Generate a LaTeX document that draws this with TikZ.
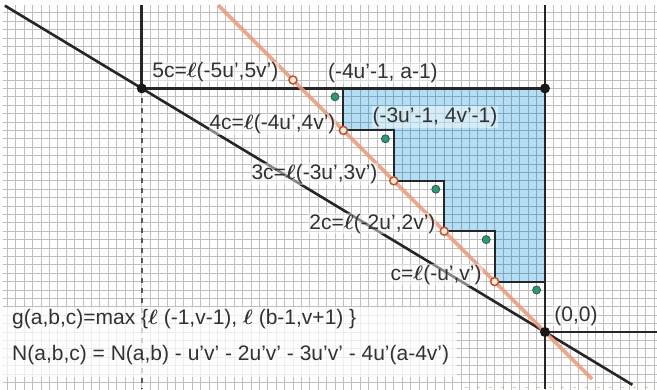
\documentclass[tikz,border=0pt]{standalone}
\usepackage{amsmath}
\usepackage{fontspec}
\setmainfont{Liberation Sans}
\newcommand{\ellb}{\ensuremath{\boldsymbol{\ell}}}
\definecolor{regionblue}{RGB}{178,223,245}
\definecolor{orangeln}{RGB}{240,150,118}
\definecolor{dotred}{RGB}{200,80,45}
\definecolor{dotgreen}{RGB}{30,160,120}
\definecolor{txtgray}{RGB}{50,50,50}
\begin{document}
\begin{tikzpicture}[x=8.4pt,y=8.4pt,
  gridline/.style={draw=black, opacity=0.25, line width=0.75pt},
  mainline/.style={draw=black!85, line width=2.6pt},
  stair/.style={draw=black!85, line width=1.9pt},
  odot/.style={circle, draw=dotred, fill=white!85!orange, line width=1.5pt, inner sep=0pt, minimum size=8pt},
  gdot/.style={circle, draw=black!70, fill=dotgreen, line width=0.8pt, inner sep=0pt, minimum size=8pt},
  bdot/.style={circle, fill=black!90, inner sep=0pt, minimum size=10pt},
  lbl/.style={font=\fontsize{21}{24}\selectfont, text=txtgray, inner sep=1pt, fill=white, fill opacity=0.45, text opacity=1},
  formula/.style={font=\fontsize{21}{24}\selectfont, text=txtgray, inner sep=0pt, anchor=west},
]
\useasboundingbox (-545pt,-57pt) rectangle (112pt,332pt);
\fill[white] (-545pt,-57pt) rectangle (112pt,332pt);
% shaded region
\fill[regionblue] (-24,29) -- (0,29) -- (0,6) -- (-6,6) -- (-6,12) -- (-12,12) -- (-12,18) -- (-18,18) -- (-18,24) -- (-24,24) -- cycle;
% grid
\begin{scope}
  \clip (-542pt,-57pt) rectangle (112pt,326pt);
  \draw[gridline, step=1] (-65,-7) grid (14,39);
\end{scope}
% named points
\coordinate (Ptop) at (-48,38.9);
\coordinate (Pbot) at (-48,-6.8);
\coordinate (Qtop) at (0,38.9);
\coordinate (Obot) at (0,-6.8);
\coordinate (Oright) at (13.4,0);
\coordinate (Lstart) at (-64.3,38.85);
\coordinate (Lend) at (10.4,-6.28);
\coordinate (Ostart) at (-38.9,38.9);
\coordinate (Oend) at (5.6,-5.6);
\coordinate (S0) at (-24,29);
\coordinate (S1) at (-6,6);
\coordinate (S2) at (-12,12);
\coordinate (S3) at (-18,18);
\coordinate (S4) at (-24,24);
\coordinate (S6) at (0,6);
% dashed continuation
\draw[black!65, line width=1.5pt, dash pattern=on 5pt off 5pt] (-48,29) -- (Pbot);
% faded box for formulas
\fill[white, opacity=0.72] (-545pt,-45pt) rectangle (-88pt,25pt);
% staircase
\draw[stair] (S0) -- (S4) -- (S4 -| S3) -- (S3) -- (S3 -| S2) -- (S2) -- (S2 -| S1) -- (S1) -- (S6);
% main lines
\draw[mainline] (Lstart) -- (Lend);
\draw[mainline] (Ptop) -- (-48,29) -- (0,29);
\draw[mainline] (Qtop) -- (Obot);
\draw[mainline] (0,0) -- (Oright);
% orange line
\draw[orangeln, opacity=0.85, line width=3.6pt] (Ostart) -- (Oend);
% black dots
\node[bdot] (P) at (-48,29) {};
\node[bdot] (Q) at (0,29) {};
\node[bdot] (O) at (0,0) {};
% orange dots
\node[odot] (o1) at (S1) {};
\node[odot] (o2) at (S2) {};
\node[odot] (o3) at (S3) {};
\node[odot] (o4) at (S4) {};
\node[odot] (o5) at (-30,30) {};
% green dots
\node[gdot] (g5) at (-25,28) {};
\node[gdot] (g4) at (-19,23) {};
\node[gdot] (g3) at (-13,17) {};
\node[gdot] (g2) at (-7,11) {};
\node[gdot] (g1) at (-1,5) {};
% labels
\node[lbl, anchor=east] (l5) at (-31.6,30.9) {5c=\ellb(-5u’,5v’)};
\node[lbl] (t5) at (-19.3,30.8) {(-4u’-1, a-1)};
\node[lbl, anchor=east] (l4) at (-24.8,24.7) {4c=\ellb(-4u’,4v’)};
\node[lbl] (t4) at (-13.1,25.6) {(-3u’-1, 4v’-1)};
\node[lbl, anchor=east] (l3) at (-19.8,18.8) {3c=\ellb(-3u’,3v’)};
\node[lbl, anchor=east] (l2) at (-12.9,12.9) {2c=\ellb(-2u’,2v’)};
\node[lbl, anchor=east] (l1) at (-7.4,6.8) {c=\ellb(-u’,v’)};
\node[lbl] (t0) at (3.7,1.9) {(0,0)};
% formulas
\node[formula] (fg) at (-533pt,13pt) {g(a,b,c)=max \{\ellb\ (-1,v-1), \ellb\ (b-1,v+1) \}};
\node[formula] (fn) at (-533pt,-23pt) {N(a,b,c) = N(a,b) - u’v’ - 2u’v’ - 3u’v’ - 4u’(a-4v’)};
% faint cut-off marks at bottom edge
\draw[green!60!black, opacity=0.3, line width=1pt, dash pattern=on 3pt off 9pt] (-80pt,-55pt) -- (112pt,-55pt);
\end{tikzpicture}
\end{document}
